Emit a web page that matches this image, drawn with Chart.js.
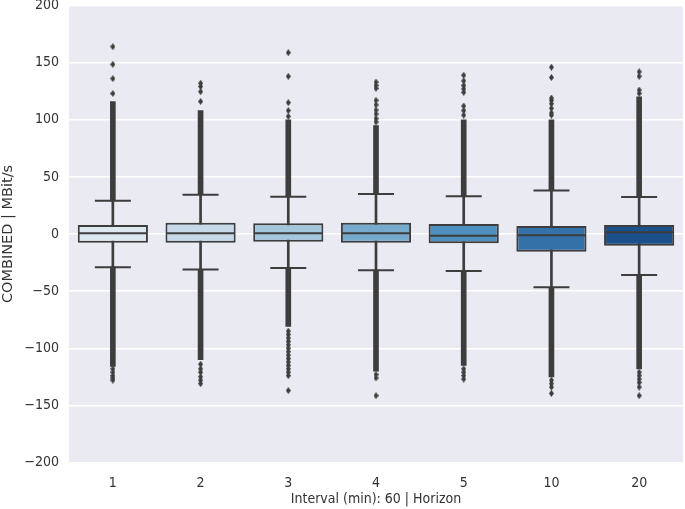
<!DOCTYPE html>
<html>
<head>
<meta charset="utf-8">
<script src="https://cdn.jsdelivr.net/npm/chart.js"></script>
<style>
  html, body { margin: 0; padding: 0; background: #fff; }
  #wrap { width: 685px; height: 509px; }
</style>
</head>
<body>
<div id="wrap"><canvas id="boxChart"></canvas></div>
<script>
// ==================== DATA ====================
const horizons = ['1', '2', '3', '4', '5', '10', '20'];
const q1s = [-7.6, -7.6, -6.7, -7.6, -8.2, -15.5, -10.2];
const q3s = [7.9, 9.9, 9.3, 9.9, 8.8, 7.0, 7.9];
const medians = [0.6, 0.6, 0.6, 0.6, -1.5, -1.2, 1.5];
const whiskLow = [-29, -31, -29.8, -31.8, -32.4, -46.7, -35.9];
const whiskHigh = [29, 34.4, 32.6, 35, 33, 38, 32.4];
// outliers so dense they merge into a solid column
const denseTop = [116, 108, 100, 95, 100, 100, 120];
const denseBottom = [-116, -110, -81, -120, -115, -125, -118];
// separate outlier diamonds
const outliersHigh = [
    [123, 136, 148.5, 164],
    [116, 124.6, 129, 132],
    [103, 108, 115, 138, 158.7],
    [98, 101, 105, 108.5, 113, 117, 127.5, 130, 133],
    [104, 108, 112, 124, 127, 130, 134, 139],
    [104, 106, 110, 114, 117, 119, 137, 146],
    [123, 126, 138, 142]
];
const outliersLow = [
    [-118, -121, -124, -126, -128],
    [-114, -118, -121, -125, -128, -131],
    [-85, -88, -91, -94, -97, -100, -103, -106, -109, -112, -115, -118, -121, -124, -137],
    [-123, -126, -141.5],
    [-118, -121, -124, -127],
    [-128, -131, -134, -139.5],
    [-121, -124, -127, -130, -134, -141.5]
];
const boxColors = ['#dde8f1', '#c5d9e8', '#a3c6da', '#77abcd', '#4e8fbd', '#3371a8', '#1b508a'];

const lineGray = '#3d3d3d';
const textGray = '#333333';
const narrowFont = '"DejaVu Sans Condensed", "DejaVu Sans", sans-serif';
const fontFamily = '"DejaVu Sans", sans-serif';

// thin diamond marker like matplotlib 'd'
function makeDiamond() {
    const c = document.createElement('canvas');
    c.width = 5;
    c.height = 7;
    const g = c.getContext('2d');
    g.fillStyle = lineGray;
    g.beginPath();
    g.moveTo(2.5, 0);
    g.lineTo(5, 3.5);
    g.lineTo(2.5, 7);
    g.lineTo(0, 3.5);
    g.closePath();
    g.fill();
    return c;
}
const diamond = makeDiamond();

const flierPoints = [];
horizons.forEach((h, i) => {
    outliersHigh[i].forEach(v => flierPoints.push({ x: h, y: v }));
    outliersLow[i].forEach(v => flierPoints.push({ x: h, y: v }));
});

const plotBg = {
    id: 'plotBg',
    beforeDraw(chart) {
        const { ctx, chartArea: a } = chart;
        ctx.save();
        ctx.fillStyle = '#eaeaf2';
        ctx.fillRect(a.left, a.top, a.right - a.left, a.bottom - a.top);
        ctx.restore();
    }
};

const ctx = document.getElementById('boxChart');
new Chart(ctx, {
    type: 'bar',
    data: {
        labels: horizons,
        datasets: [
            {
                // dense flier columns, upper
                data: whiskHigh.map((w, i) => [w, denseTop[i]]),
                backgroundColor: lineGray,
                barThickness: 5,
                grouped: false,
                order: 5
            },
            {
                // dense flier columns, lower
                data: whiskLow.map((w, i) => [denseBottom[i], w]),
                backgroundColor: lineGray,
                barThickness: 5,
                grouped: false,
                order: 5
            },
            {
                // whisker stems
                data: whiskLow.map((w, i) => [w, whiskHigh[i]]),
                backgroundColor: lineGray,
                barThickness: 2,
                grouped: false,
                order: 4
            },
            {
                // boxes
                data: q1s.map((q, i) => [q, q3s[i]]),
                backgroundColor: boxColors,
                borderColor: lineGray,
                borderWidth: 2,
                borderSkipped: false,
                barPercentage: 0.8,
                categoryPercentage: 1,
                grouped: false,
                order: 3
            },
            {
                type: 'line',
                data: medians,
                showLine: false,
                pointStyle: 'line',
                pointRadius: 34,
                pointBorderWidth: 2,
                pointBorderColor: lineGray,
                order: 2
            },
            {
                type: 'line',
                data: whiskHigh,
                showLine: false,
                pointStyle: 'line',
                pointRadius: 18,
                pointBorderWidth: 2,
                pointBorderColor: lineGray,
                order: 2
            },
            {
                type: 'line',
                data: whiskLow,
                showLine: false,
                pointStyle: 'line',
                pointRadius: 18,
                pointBorderWidth: 2,
                pointBorderColor: lineGray,
                order: 2
            },
            {
                type: 'line',
                data: flierPoints,
                showLine: false,
                pointStyle: diamond,
                order: 1
            }
        ]
    },
    options: {
        responsive: true,
        maintainAspectRatio: false,
        animation: false,
        layout: { autoPadding: false, padding: { top: 5.5, right: 2, left: 0, bottom: 0 } },
        plugins: {
            legend: { display: false },
            tooltip: { enabled: false }
        },
        scales: {
            x: {
                type: 'category',
                offset: true,
                grid: { display: false, drawTicks: false },
                border: { display: false },
                ticks: {
                    padding: 12,
                    color: textGray,
                    font: { family: narrowFont, size: 14 }
                },
                title: {
                    display: true,
                    text: 'Interval (min): 60 | Horizon',
                    color: textGray,
                    padding: { top: 0, bottom: 1 },
                    font: { family: narrowFont, size: 14 }
                },
                afterFit(scale) { scale.height = 46.5; }
            },
            y: {
                min: -200,
                max: 200,
                grid: { color: '#ffffff', lineWidth: 1.5, drawTicks: false },
                border: { display: false },
                ticks: {
                    stepSize: 50,
                    padding: 10,
                    color: textGray,
                    font: { family: narrowFont, size: 14 },
                    callback: v => String(v).replace('-', '\u2212')
                },
                title: {
                    display: true,
                    text: 'COMBINED | MBit/s',
                    color: textGray,
                    padding: { top: 0, bottom: 2 },
                    font: { family: fontFamily, size: 14.5 }
                },
                afterFit(scale) {
                    scale.width = 69;
                    scale.paddingTop = 0;
                    scale.paddingBottom = 0;
                }
            }
        }
    },
    plugins: [plotBg]
});
</script>
</body>
</html>
